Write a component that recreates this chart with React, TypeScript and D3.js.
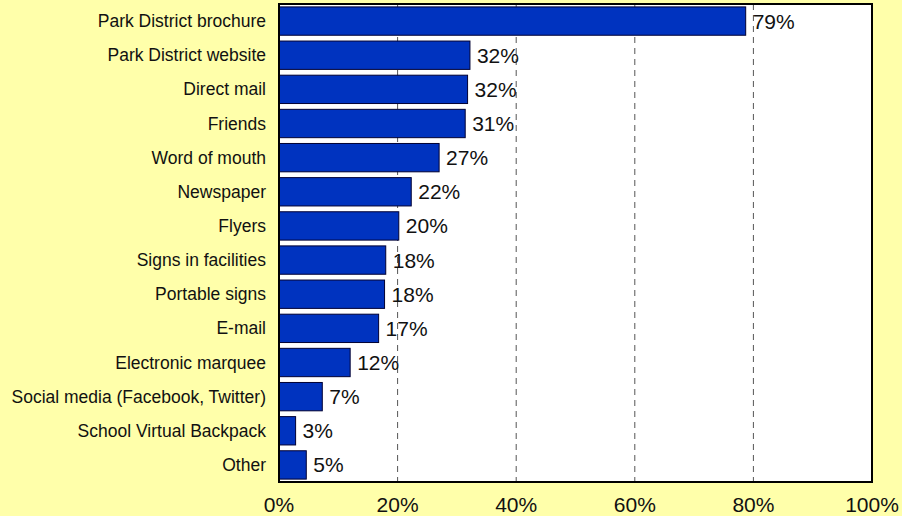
import React from "react";
import * as d3 from "d3";

const categories = [
  "Park District brochure",
  "Park District website",
  "Direct mail",
  "Friends",
  "Word of mouth",
  "Newspaper",
  "Flyers",
  "Signs in facilities",
  "Portable signs",
  "E-mail",
  "Electronic marquee",
  "Social media (Facebook, Twitter)",
  "School Virtual Backpack",
  "Other",
];
const values = [78.7, 32.2, 31.8, 31.4, 27.0, 22.3, 20.2, 18.0, 17.8, 16.8, 12.0, 7.3, 2.8, 4.6];
const valueLabels = ["79%", "32%", "32%", "31%", "27%", "22%", "20%", "18%", "18%", "17%", "12%", "7%", "3%", "5%"];
const ticks = [0, 20, 40, 60, 80, 100];

const W = 902;
const H = 516;
const left = 279;
const right = 872;
const top = 4;
const bottom = 482;

export default function App() {
  const x = d3.scaleLinear().domain([0, 100]).range([left, right]);
  const y = d3
    .scaleBand<string>()
    .domain(categories)
    .range([top, bottom])
    .paddingInner(0.17)
    .paddingOuter(0.085);
  const font = "Liberation Sans, Arial, sans-serif";
  return (
    <svg
      width={W}
      height={H}
      style={{ position: "absolute", left: 0, top: 0, fontFamily: font }}
    >
      <rect x={0} y={0} width={W} height={H} fill="#FFFFAA" />
      <rect x={left} y={top} width={right - left} height={bottom - top} fill="#ffffff" />
      {ticks.slice(1, -1).map((t) => (
        <line
          key={t}
          x1={x(t)}
          x2={x(t)}
          y1={top}
          y2={bottom}
          stroke="#555555"
          strokeWidth={1}
          strokeDasharray="6,5"
        />
      ))}
      {categories.map((c, i) => {
        const by = y(c)!;
        const bh = y.bandwidth();
        const cy = by + bh / 2;
        return (
          <g key={c}>
            <rect
              x={x(0)}
              y={by}
              width={x(values[i]) - x(0)}
              height={bh}
              fill="#0033BF"
              stroke="#000033"
              strokeWidth={1}
            />
            <text
              x={x(values[i]) + 7}
              y={cy + 7.5}
              fontSize={21}
              fill="#111"
            >
              {valueLabels[i]}
            </text>
            <text x={266} y={cy + 6} fontSize={17.5} textAnchor="end" fill="#111">
              {c}
            </text>
          </g>
        );
      })}
      <rect
        x={left}
        y={top}
        width={right - left}
        height={bottom - top}
        fill="none"
        stroke="#000"
        strokeWidth={2}
      />
      {ticks.map((t) => (
        <text key={t} x={x(t)} y={512} fontSize={21} textAnchor="middle" fill="#111">
          {t}%
        </text>
      ))}
    </svg>
  );
}
